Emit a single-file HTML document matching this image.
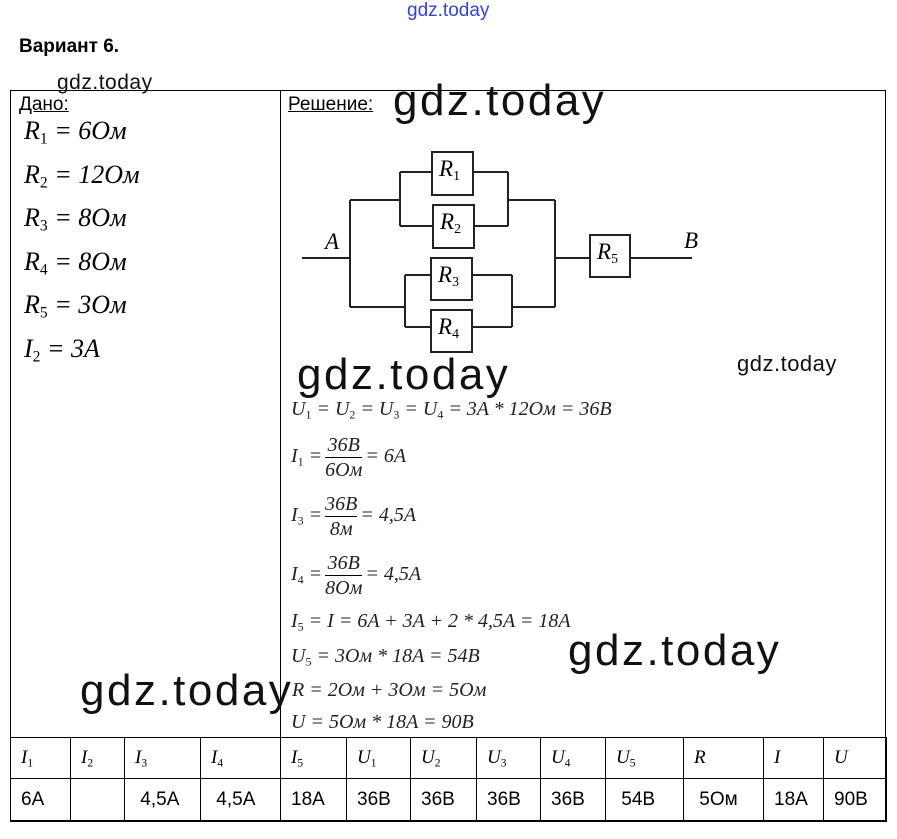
<!DOCTYPE html>
<html><head><meta charset="utf-8"><style>
body{margin:0;width:897px;height:839px;background:#fff;position:relative;overflow:hidden;font-family:"Liberation Sans",sans-serif;color:#000}
.a{position:absolute;white-space:nowrap}
.f{font-family:"Liberation Serif",serif;font-style:italic}
.w{font-family:"Liberation Sans",sans-serif;color:#111}
sub{font-size:60%;vertical-align:-0.3em;font-style:normal;line-height:0}
.fr{display:inline-block;vertical-align:middle;text-align:center;margin:0 3px}
.fr span{display:block;line-height:24px}
.fr .n{border-bottom:1px solid #000}
table{table-layout:fixed}
td{border:1px solid #000;padding:0 0 0 10px;font-size:19px;overflow:hidden}
.d{font-size:26px;left:24px}
</style></head><body>
<div class="a" style="left:407px;top:0px;font-size:19px;color:#3344dd">gdz.today</div>
<div class="a" style="left:19px;top:36px;font-size:19px;font-weight:bold">Вариант 6.</div>

<div class="a" style="left:10px;top:90px;width:876px;height:731px;border:1px solid #000;box-sizing:border-box"></div>
<div class="a" style="left:280px;top:90px;width:1px;height:647px;background:#000"></div>

<div class="a w" style="left:57px;top:71px;font-size:21px;letter-spacing:0.5px">gdz.today</div>
<div class="a" style="left:19px;top:94px;font-size:19px;text-decoration:underline">Дано:</div>
<div class="a" style="left:288px;top:94px;font-size:19px;text-decoration:underline">Решение:</div>
<div class="a w" style="left:393px;top:76px;font-size:44px;letter-spacing:2.5px">gdz.today</div>

<div class="a f d" style="top:116px">R<sub>1</sub> = 6Ом</div>
<div class="a f d" style="top:160px">R<sub>2</sub> = 12Ом</div>
<div class="a f d" style="top:203px">R<sub>3</sub> = 8Ом</div>
<div class="a f d" style="top:247px">R<sub>4</sub> = 8Ом</div>
<div class="a f d" style="top:290px">R<sub>5</sub> = 3Ом</div>
<div class="a f d" style="top:334px">I<sub>2</sub> = 3A</div>

<svg class="a" style="left:0;top:0" width="897" height="839" fill="none" stroke="#222" stroke-width="2">
<path d="M302 258H350M350 200V307M350 200H400M400 172V226M400 172H432M400 226H433M473 172H508M474 226H508M508 172V226M508 200H555M555 200V307M350 307H405M405 275V327M405 275H431M405 327H431M472 275H512M472 327H512M512 275V327M512 307H555M555 258H590M630 258H692"/>
<rect x="432" y="152" width="41" height="43"/><rect x="433" y="205" width="41" height="43"/>
<rect x="431" y="258" width="41" height="42"/><rect x="431" y="310" width="41" height="42"/>
<rect x="590" y="235" width="40" height="42"/>
</svg>
<div class="a f" style="left:439px;top:156px;font-size:23px">R<sub>1</sub></div>
<div class="a f" style="left:440px;top:209px;font-size:23px">R<sub>2</sub></div>
<div class="a f" style="left:438px;top:262px;font-size:23px">R<sub>3</sub></div>
<div class="a f" style="left:438px;top:314px;font-size:23px">R<sub>4</sub></div>
<div class="a f" style="left:597px;top:239px;font-size:23px">R<sub>5</sub></div>
<div class="a f" style="left:325px;top:229px;font-size:23px">A</div>
<div class="a f" style="left:684px;top:228px;font-size:23px">B</div>

<div class="a w" style="left:297px;top:350px;font-size:44px;letter-spacing:2.5px">gdz.today</div>
<div class="a w" style="left:737px;top:351px;font-size:22px;letter-spacing:0.5px">gdz.today</div>

<div class="a f" style="left:291px;top:398px;font-size:20px;color:#222">U<sub>1</sub> = U<sub>2</sub> = U<sub>3</sub> = U<sub>4</sub> = 3A * 12Ом = 36B</div>
<div class="a f" style="left:291px;top:433px;font-size:20px;color:#222">I<sub>1</sub> =<span class="fr"><span class="n">36B</span><span>6Ом</span></span>= 6A</div>
<div class="a f" style="left:291px;top:492px;font-size:20px;color:#222">I<sub>3</sub> =<span class="fr"><span class="n">36B</span><span>8м</span></span>= 4,5A</div>
<div class="a f" style="left:291px;top:551px;font-size:20px;color:#222">I<sub>4</sub> =<span class="fr"><span class="n">36B</span><span>8Ом</span></span>= 4,5A</div>
<div class="a f" style="left:291px;top:610px;font-size:20px;color:#222">I<sub>5</sub> = I = 6A + 3A + 2 * 4,5A = 18A</div>
<div class="a f" style="left:291px;top:645px;font-size:20px;color:#222">U<sub>5</sub> = 3Ом * 18A = 54B</div>
<div class="a f" style="left:292px;top:679px;font-size:20px;color:#222">R = 2Ом + 3Ом = 5Ом</div>
<div class="a f" style="left:291px;top:711px;font-size:20px;color:#222">U = 5Ом * 18A = 90B</div>
<div class="a w" style="left:568px;top:626px;font-size:44px;letter-spacing:2.5px">gdz.today</div>
<div class="a w" style="left:80px;top:666px;font-size:44px;letter-spacing:2.5px">gdz.today</div>

<table class="a" style="left:10px;top:737px;border-collapse:collapse;width:876px">
<colgroup><col style="width:60px"><col style="width:54px"><col style="width:76px"><col style="width:80px"><col style="width:66px"><col style="width:64px"><col style="width:66px"><col style="width:64px"><col style="width:65px"><col style="width:78px"><col style="width:80px"><col style="width:60px"><col style="width:63px"></colgroup>
<tr style="height:41px"><td class="f">I<sub>1</sub></td><td class="f">I<sub>2</sub></td><td class="f">I<sub>3</sub></td><td class="f">I<sub>4</sub></td><td class="f">I<sub>5</sub></td><td class="f">U<sub>1</sub></td><td class="f">U<sub>2</sub></td><td class="f">U<sub>3</sub></td><td class="f">U<sub>4</sub></td><td class="f">U<sub>5</sub></td><td class="f">R</td><td class="f">I</td><td class="f">U</td></tr>
<tr style="height:43px"><td>6A</td><td></td><td>&nbsp;4,5A</td><td>&nbsp;4,5A</td><td>18A</td><td>36B</td><td>36B</td><td>36B</td><td>36B</td><td>&nbsp;54B</td><td>&nbsp;5Ом</td><td>18A</td><td>90B</td></tr>
</table>
</body></html>
